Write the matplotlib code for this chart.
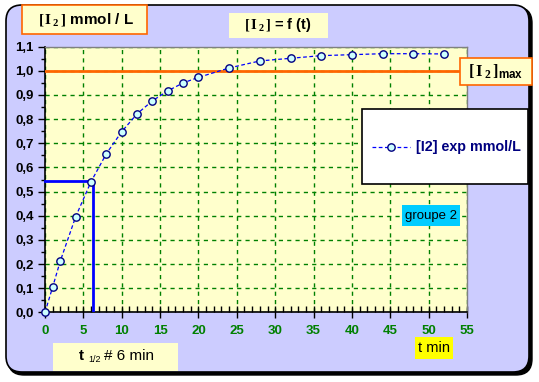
import numpy as np
import matplotlib
matplotlib.use("Agg")
import matplotlib.pyplot as plt
from matplotlib.patches import FancyBboxPatch, Rectangle
from matplotlib.ticker import MultipleLocator, FuncFormatter
from matplotlib.lines import Line2D

plt.rcParams["font.family"] = ["Liberation Sans", "DejaVu Sans"]
plt.rcParams["mathtext.fontset"] = "custom"
plt.rcParams["mathtext.rm"] = "Liberation Serif"
plt.rcParams["mathtext.it"] = "Liberation Serif:italic"
plt.rcParams["mathtext.bf"] = "Liberation Serif:bold"
plt.rcParams["mathtext.sf"] = "Liberation Sans:bold"

# data
t_min = [0, 1, 2, 4, 6, 8, 10, 12, 14, 16, 18, 20, 24, 28, 32, 36, 40, 44, 48, 52]
i2_exp = [0.0, 0.105, 0.213, 0.396, 0.541, 0.657, 0.748, 0.822, 0.876, 0.917,
          0.950, 0.973, 1.012, 1.041, 1.052, 1.063, 1.067, 1.071, 1.071, 1.070]
i2_max = 1.0
t_half = 6.3
c_half = 0.545

W, H = 539, 382
fig = plt.figure(figsize=(W / 100, H / 100), dpi=100)
fig.patch.set_facecolor("white")


def inch(px, py):
    # pixel (top-left origin) -> inches for dpi_scale_trans
    return px / 100, (H - py) / 100


def panel(x0, y0, x1, y1, **kw):
    px, py = inch(x0, y1)
    p = FancyBboxPatch((px, py), (x1 - x0) / 100, (y1 - y0) / 100,
                       boxstyle="round,pad=0,rounding_size=0.16",
                       transform=fig.dpi_scale_trans, **kw)
    fig.patches.append(p)


def box(x0, y0, x1, y1, fc, ec="none", lw=1.2):
    px, py = inch(x0, y1)
    r = Rectangle((px, py), (x1 - x0) / 100, (y1 - y0) / 100,
                  transform=fig.dpi_scale_trans, fc=fc, ec=ec, lw=lw, zorder=2)
    fig.patches.append(r)


def label(x, y, s, ha="center", **kw):
    fig.text(x / W, 1 - y / H, s, ha=ha, va="center", zorder=3, **kw)


# background panel with shadow
panel(8, 7, 532, 375, fc="black", ec="black", lw=1, zorder=-2)
panel(6, 5, 529, 372, fc="#CCCCFF", ec="black", lw=1.2, zorder=-1)

ax = fig.add_axes([45 / W, 1 - 312.3 / H, 422 / W, 265.6 / H])
ax.set_facecolor("#FFFFCC")
ax.set_xlim(0, 55)
ax.set_ylim(0, 1.1)

ax.xaxis.set_major_locator(MultipleLocator(5))
ax.xaxis.set_minor_locator(MultipleLocator(1))
ax.yaxis.set_major_locator(MultipleLocator(0.1))
ax.yaxis.set_minor_locator(MultipleLocator(0.05))
ax.yaxis.set_major_formatter(FuncFormatter(lambda v, p: f"{v:.1f}".replace(".", ",")))

ax.tick_params(axis="x", which="major", direction="inout", length=8, width=1,
               pad=5, labelsize=9.5, labelcolor="#008000")
ax.tick_params(axis="x", which="minor", direction="in", length=4, width=1)
ax.tick_params(axis="y", which="major", direction="out", length=5, width=1,
               pad=3, labelsize=9.5, labelcolor="black")
ax.tick_params(axis="y", which="minor", direction="out", length=3, width=1)
for lab in ax.get_xticklabels() + ax.get_yticklabels():
    lab.set_fontweight("bold")

for side in ["left", "bottom"]:
    ax.spines[side].set_color("black")
    ax.spines[side].set_linewidth(1.2)
for side in ["top", "right"]:
    ax.spines[side].set_color("#808080")
    ax.spines[side].set_linewidth(1)

ax.grid(True, which="major", color="#008000", linestyle=(0, (3, 3)), linewidth=1)
ax.set_axisbelow(True)

ax.plot([0, 55], [i2_max, i2_max], color="#FF6600", lw=2, zorder=3)
ax.plot([0, t_half], [c_half, c_half], color="#0000FF", lw=2, zorder=3, clip_on=False)
ax.plot([t_half, t_half], [0, c_half], color="#0000FF", lw=2, zorder=3)

ax.plot(t_min, i2_exp, linestyle=(0, (3, 2)), color="#0000FF", lw=0.9,
        marker="o", ms=5.3, mfc="#CCFFFF", mec="#000080", mew=1,
        clip_on=False, zorder=5)

# text boxes
box(22, 5, 147, 34, fc="#FFFFCC", ec="#FF6600")
label(86, 20, r"$\mathbf{[\,I\,_2\,]}$ mmol / L", fontsize=11, fontweight="bold")

box(229, 13, 328, 38, fc="#FFFFCC")
label(278, 25, r"$\mathbf{[\,I\,_2\,]}$ = f (t)", fontsize=10.5, fontweight="bold")

box(460, 58, 532, 85, fc="#FFFFCC", ec="#FF6600")
label(496, 72, r"$\mathbf{[\,I\,_2\,]}_{\mathsf{max}}$", fontsize=12)

# legend box
box(362, 109, 528, 184, fc="white", ec="black", lw=1.2)
leg_line = Line2D([372 / 100, 410 / 100], [(H - 147) / 100] * 2,
                  transform=fig.dpi_scale_trans, linestyle=(0, (3, 2)),
                  color="#0000FF", lw=0.9, zorder=3)
fig.lines.append(leg_line)
leg_mark = Line2D([391 / 100], [(H - 147) / 100], transform=fig.dpi_scale_trans,
                  marker="o", ms=5.3, mfc="#CCFFFF", mec="#000080", mew=1,
                  linestyle="none", zorder=4)
fig.lines.append(leg_mark)
label(416, 147, "[I2] exp mmol/L", ha="left", fontsize=10.3,
      fontweight="bold", color="#000080")

box(402, 205, 460, 226, fc="#00CCFF")
label(431, 215.5, "groupe 2", fontsize=9.5)

box(415, 337, 453, 359, fc="#FFFF00")
label(434, 348, "t min", fontsize=10.5)

box(53, 343, 178, 371, fc="#FFFFCC")
label(79, 356, "t", ha="left", fontsize=11, fontweight="bold")
label(88, 360, "1/2", ha="left", fontsize=6.5)
label(104, 356, "# 6 min", ha="left", fontsize=11)

fig.savefig("out.png", dpi=100)
